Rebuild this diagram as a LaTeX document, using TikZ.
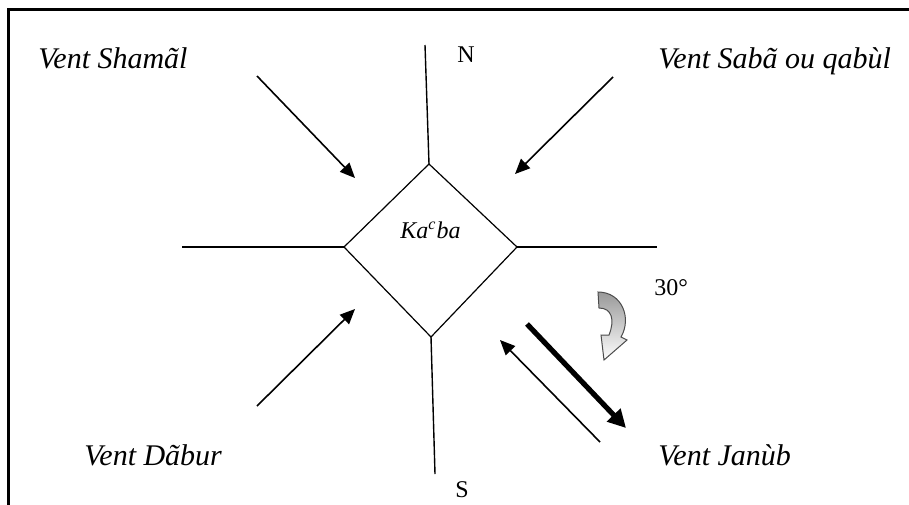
\documentclass[tikz,border=0pt]{standalone}
\usepackage{fontspec}
\setmainfont{Liberation Serif}
\usetikzlibrary{arrows.meta}
\begin{document}
\begin{tikzpicture}[x=0.5pt,y=-0.5pt,
  wind/.style={font=\fontsize{15}{15}\selectfont\itshape, inner sep=0pt, anchor=base west},
  small/.style={font=\fontsize{12}{12}\selectfont, inner sep=0pt, anchor=base west},
  axis/.style={line width=0.7pt},
  windarrow/.style={line width=0.8pt, -{Triangle[length=7.5pt,width=6.5pt]}},
  bigarrow/.style={line width=2.6pt, -{Triangle[length=9pt,width=9pt]}}]
\useasboundingbox (0,0) rectangle (909,504);
\clip (0,0) rectangle (909,504);
\fill[white] (0,0) rectangle (909,504);
\draw[line width=1.5pt] (8,9) rectangle (930,530);

% Kaaba
\coordinate (kt) at (429,164);
\coordinate (kl) at (344,247);
\coordinate (kr) at (517,247);
\coordinate (kb) at (431,337);
\draw[line width=0.6pt, line join=miter] (kt) -- (kr) -- (kb) -- (kl) -- cycle;
\node[font=\fontsize{12}{12}\selectfont\itshape, inner sep=0pt, anchor=base west] (kname) at (400,238) {Ka\textsuperscript{c}ba};

% axes
\coordinate (nEnd) at (425,45);
\coordinate (sEnd) at (435,474);
\coordinate (wEnd) at (182,247);
\coordinate (eEnd) at (657,247);
\draw[axis] (kt) -- (nEnd);
\draw[axis] (kb) -- (sEnd);
\draw[axis] (kl) -- (wEnd);
\draw[axis] (kr) -- (eEnd);

% labels
\node[small] (N) at (457,62) {N};
\node[small] (S) at (455,497) {S};
\node[small] (deg) at (654,295) {30°};
\node[wind] (shamal) at (38,68) {Vent Shamãl};
\node[wind] (saba) at (658,68) {Vent Sabã ou qabùl};
\node[wind] (dabur) at (84,465) {Vent Dãbur};
\node[wind] (janub) at (658,465) {Vent Janùb};

% wind arrows
\coordinate (a1s) at (257,76);  \coordinate (a1e) at (355,178);
\coordinate (a2s) at (613,77);  \coordinate (a2e) at (515,174);
\coordinate (a3s) at (257,406); \coordinate (a3e) at (355,309);
\coordinate (a4s) at (600,442); \coordinate (a4e) at (500,340);
\coordinate (a5s) at (527,324); \coordinate (a5e) at (626,428);
\draw[windarrow] (a1s) -- (a1e);
\draw[windarrow] (a2s) -- (a2e);
\draw[windarrow] (a3s) -- (a3e);
\draw[windarrow] (a4s) -- (a4e);
\draw[bigarrow] (a5s) -- (a5e);

% curved rotation arrow
\draw[line width=0.5pt, draw=black!70, top color=black!40, bottom color=white]
  (598,292) .. controls (622,292) and (632,318) .. (621,337)
  -- (627,340) -- (604,360) -- (601,335) -- (609,335)
  .. controls (615,320) and (612,308) .. (599,308) -- cycle;
\end{tikzpicture}
\end{document}
